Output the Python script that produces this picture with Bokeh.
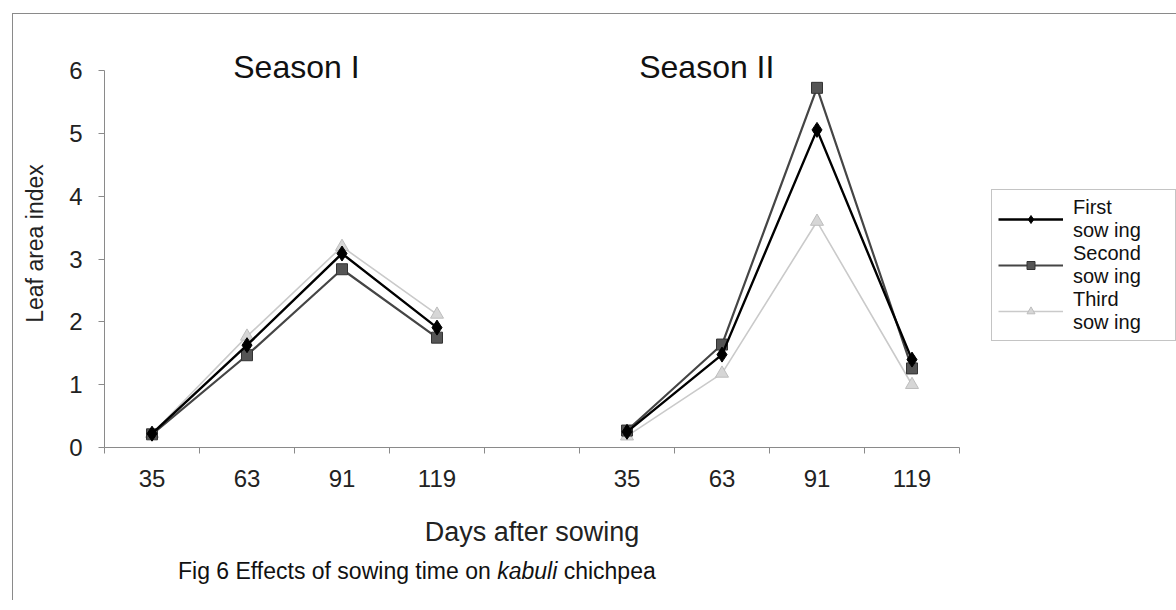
import numpy as np
from bokeh.plotting import figure
from bokeh.models import Legend, LegendItem, Label, FixedTicker, ColumnDataSource, Div
from bokeh.layouts import column
from bokeh.embed import file_html
from bokeh.resources import INLINE

# ---- data ----
categories = ["35", "63", "91", "119", "", "35", "63", "91", "119"]
first_sowing = [0.22, 1.63, 3.09, 1.91, None, 0.25, 1.48, 5.06, 1.40]
second_sowing = [0.21, 1.47, 2.84, 1.75, None, 0.27, 1.64, 5.73, 1.26]
third_sowing = [0.22, 1.77, 3.20, 2.12, None, 0.18, 1.18, 3.60, 1.00]
series_names = ["First\nsow ing", "Second\nsow ing", "Third\nsow ing"]
season_titles = ["Season I", "Season II"]
y_ticks = [0, 1, 2, 3, 4, 5, 6]

FONT = "Liberation Sans"
idx = list(range(len(categories)))

src = ColumnDataSource(dict(
    x=idx,
    first=np.array(first_sowing, dtype=float),
    second=np.array(second_sowing, dtype=float),
    third=np.array(third_sowing, dtype=float),
))

p = figure(frame_width=855, frame_height=408,
           x_range=(-0.5, len(categories) - 0.5), y_range=(0, 6.5),
           output_backend="svg", toolbar_location=None,
           min_border_left=91, min_border_right=200, min_border_top=25, min_border_bottom=106)
p.outline_line_color = None
p.xgrid.grid_line_color = None
p.ygrid.grid_line_color = None
p.background_fill_color = "white"
p.border_fill_color = "white"

# x axis: labels at category centres, tick marks between categories
p.xaxis.ticker = FixedTicker(ticks=idx, minor_ticks=[i - 0.5 for i in range(len(categories) + 1)])
p.xaxis.major_label_overrides = {i: (c if c else " ") for i, c in enumerate(categories)}
p.xaxis.major_tick_line_color = None
p.xaxis.minor_tick_line_color = "#8a8a8a"
p.xaxis.minor_tick_out = 6
p.xaxis.minor_tick_in = 0
p.xaxis.axis_line_color = "#8a8a8a"
p.xaxis.major_label_text_font = FONT
p.xaxis.major_label_text_font_size = "24px"
p.xaxis.major_label_text_color = "#222222"
p.xaxis.major_label_standoff = 11
p.xaxis.axis_label = "Days after sowing"
p.xaxis.axis_label_text_font = FONT
p.xaxis.axis_label_text_font_style = "normal"
p.xaxis.axis_label_text_font_size = "27px"
p.xaxis.axis_label_text_color = "#222222"
p.xaxis.axis_label_standoff = 22

p.yaxis.ticker = FixedTicker(ticks=y_ticks)
p.yaxis.bounds = (0, 6)
p.yaxis.minor_tick_line_color = None
p.yaxis.major_tick_line_color = "#8a8a8a"
p.yaxis.major_tick_out = 6
p.yaxis.major_tick_in = 0
p.yaxis.axis_line_color = "#8a8a8a"
p.yaxis.major_label_text_font = FONT
p.yaxis.major_label_text_font_size = "24px"
p.yaxis.major_label_text_color = "#222222"
p.yaxis.major_label_standoff = 16
p.yaxis.axis_label = "Leaf area index"
p.yaxis.axis_label_text_font = FONT
p.yaxis.axis_label_text_font_style = "normal"
p.yaxis.axis_label_text_font_size = "23px"
p.yaxis.axis_label_text_color = "#222222"
p.yaxis.axis_label_standoff = 18

# series
l3 = p.line("x", "third", source=src, line_color="#cacaca", line_width=1.6)
s3 = p.scatter("x", "third", source=src, marker="triangle", size=13,
               fill_color="#d6d6d6", line_color="#bdbdbd")
l2 = p.line("x", "second", source=src, line_color="#454545", line_width=2.2)
s2 = p.scatter("x", "second", source=src, marker="square", size=11,
               fill_color="#555555", line_color="#333333")
l1 = p.line("x", "first", source=src, line_color="#000000", line_width=2.4)
s1 = p.scatter("x", "first", source=src, marker="diamond", size=15,
               fill_color="#000000", line_color="#000000")

legend = Legend(items=[
    LegendItem(label=series_names[0], renderers=[l1, s1]),
    LegendItem(label=series_names[1], renderers=[l2, s2]),
    LegendItem(label=series_names[2], renderers=[l3, s3]),
], location=(32, 106))
legend.label_text_font = FONT
legend.label_text_font_size = "20px"
legend.label_text_line_height = 1.35
legend.label_text_color = "#111111"
legend.glyph_width = 65
legend.label_standoff = 10
legend.label_width = 96
legend.padding = 6
legend.spacing = -9
legend.border_line_color = "#8a8a8a"
legend.border_line_width = 1
legend.background_fill_color = "white"
legend.background_fill_alpha = 1
legend.margin = 0
p.add_layout(legend, "right")

# season titles
p.add_layout(Label(x=1.52, y=6.06, text=season_titles[0], text_align="center",
                   text_baseline="alphabetic", text_font=FONT, text_font_size="32px",
                   text_color="#111111"))
p.add_layout(Label(x=5.84, y=6.06, text=season_titles[1], text_align="center",
                   text_baseline="alphabetic", text_font=FONT, text_font_size="32px",
                   text_color="#111111"))

caption = Div(text='Fig 6 Effects of sowing time on <i>kabuli</i> chichpea',
              width=900, height=45, margin=(2, 0, 0, 165),
              styles={"font-family": FONT, "font-size": "23px", "color": "#111111"})

layout = column(p, caption, margin=(13, 0, 0, 12),
                styles={"border-top": "1px solid #8a8a8a", "border-left": "1px solid #8a8a8a",
                        "background-color": "white"})

open("out.html", "w").write(file_html(layout, INLINE))
